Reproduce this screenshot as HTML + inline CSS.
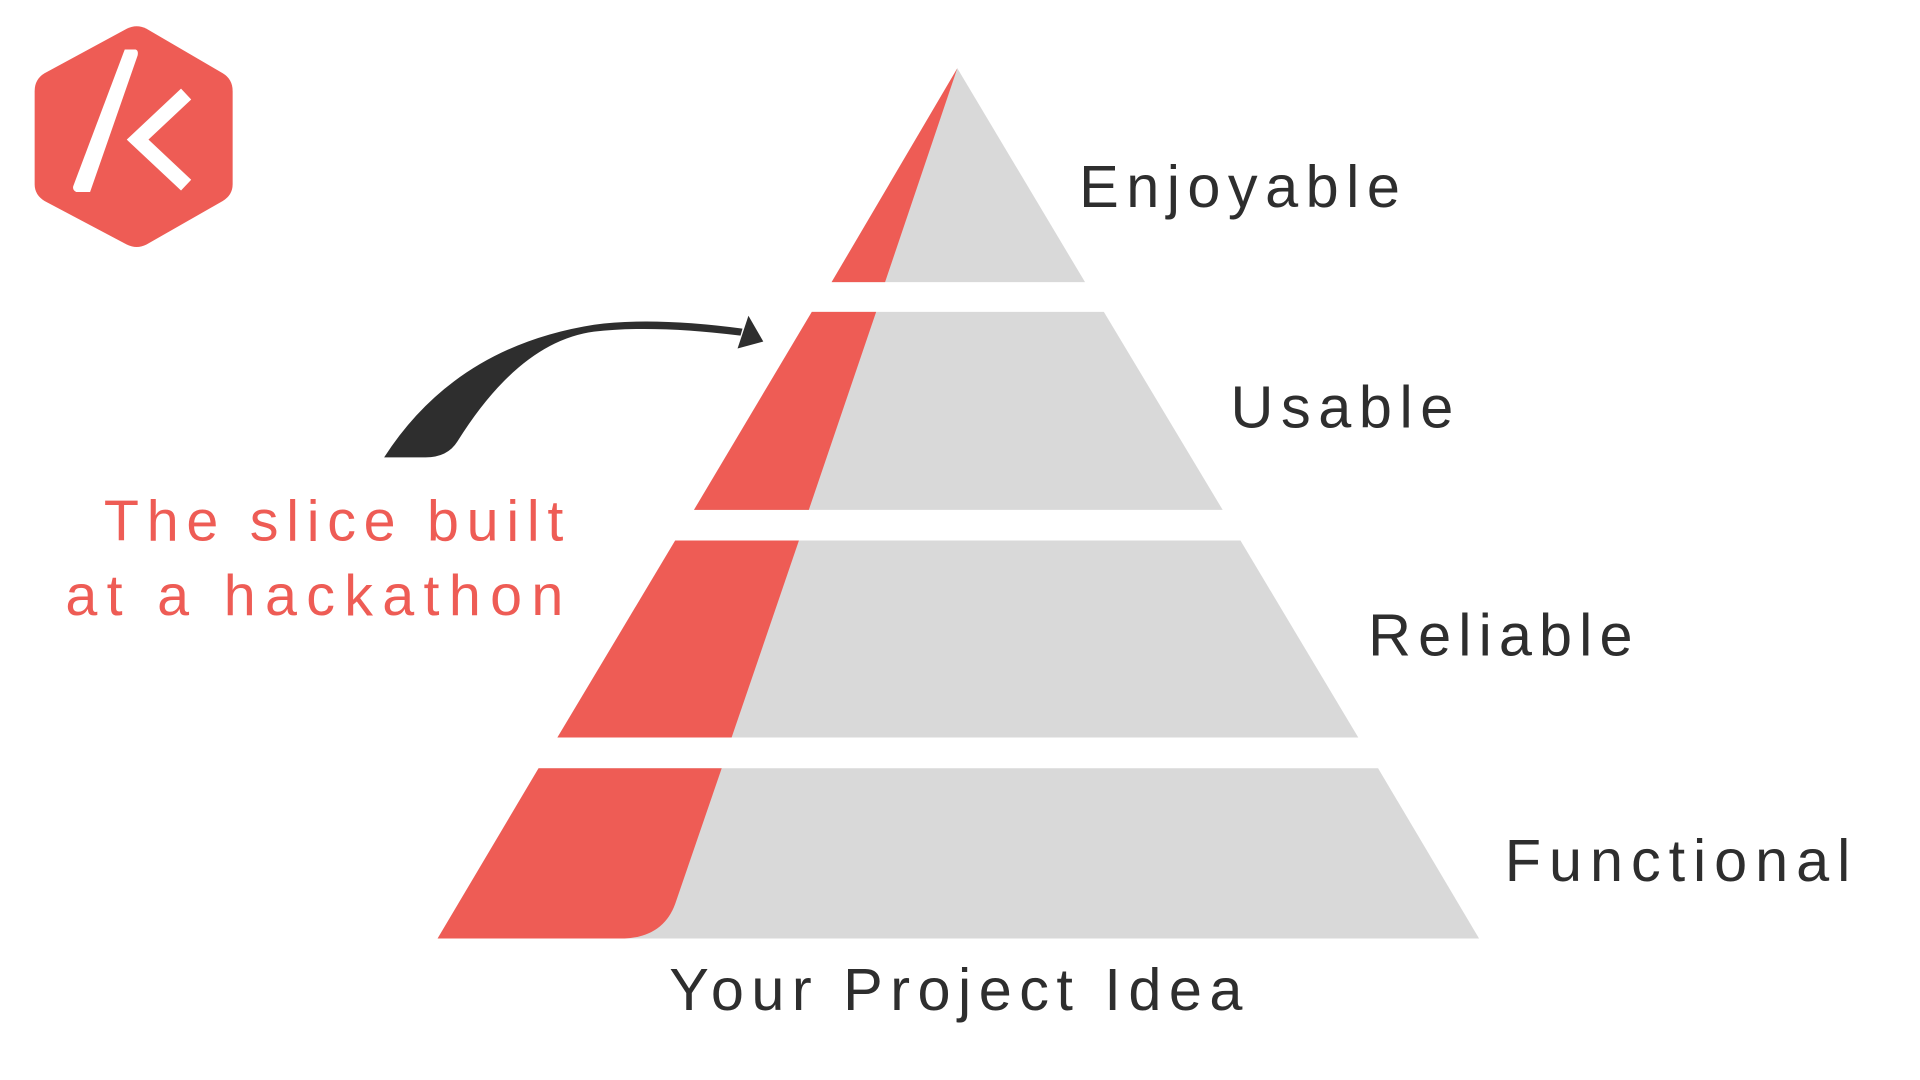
<!DOCTYPE html>
<html><head><meta charset="utf-8"><style>
html,body{margin:0;padding:0;background:#fff;width:1920px;height:1080px;overflow:hidden}
svg{display:block}
text{font-family:"Liberation Sans",sans-serif}
</style></head><body>
<svg width="1920" height="1080" viewBox="0 0 1920 1080" xmlns="http://www.w3.org/2000/svg">
<g transform="scale(0.99)">
<!-- logo -->
<path d="M128,29 Q138,24 148,29 L225,74 Q235,80 235,92 L235,186 Q235,197 225,203 L148,247 Q138,252 128,247 L45,203 Q35,197 35,186 L35,92 Q35,80 45,74 Z" fill="#ee5c55"/>
<path d="M126,50 L137,50 Q140,51 139,56 L91,194 L77,194 Q73,192 74,188 Z" fill="#fff"/>
<polyline points="188,95 139,141 188,187" fill="none" stroke="#fff" stroke-width="15" stroke-linejoin="miter"/>
<!-- pyramid grey -->
<polygon points="967,69 1096,285 840,285" fill="#d9d9d9"/>
<polygon points="820,315 1115,315 1235,515 701,515" fill="#d9d9d9"/>
<polygon points="682,546 1253,546 1372,745 563,745" fill="#d9d9d9"/>
<polygon points="544,776 1392,776 1494,948 442,948" fill="#d9d9d9"/>
<!-- red slices -->
<polygon points="967,69 894,285 840,285" fill="#ee5c55"/>
<polygon points="820,315 885,315 817,515 701,515" fill="#ee5c55"/>
<polygon points="682,546 807,546 739,745 563,745" fill="#ee5c55"/>
<path d="M544,776 L729,776 L682,913 Q670,946 631,948 L442,948 Z" fill="#ee5c55"/>
<!-- arrow -->
<path d="M388,462 Q460,350 600,328 Q660,320 750,332 L748,339 Q660,328 600,335 Q525,345 462,446 Q452,462 430,462 Z" fill="#2e2e2e"/>
<polygon points="771,345 756,319 745,352" fill="#2e2e2e"/>
<!-- labels -->
<g fill="#2e2e2e" font-size="60">
<text x="1090" y="209" textLength="324" lengthAdjust="spacing">Enjoyable</text>
<text x="1243" y="432" textLength="225" lengthAdjust="spacing">Usable</text>
<text x="1382" y="662" textLength="267" lengthAdjust="spacing">Reliable</text>
<text x="1520" y="890" textLength="349" lengthAdjust="spacing">Functional</text>
<text x="676" y="1020" textLength="579" lengthAdjust="spacing">Your Project Idea</text>
</g>
<g fill="#ee5c55" font-size="58">
<text x="105" y="546" textLength="464" lengthAdjust="spacing">The slice built</text>
<text x="66" y="621" textLength="503" lengthAdjust="spacing">at a hackathon</text>
</g>
</g>
</svg>
</body></html>
